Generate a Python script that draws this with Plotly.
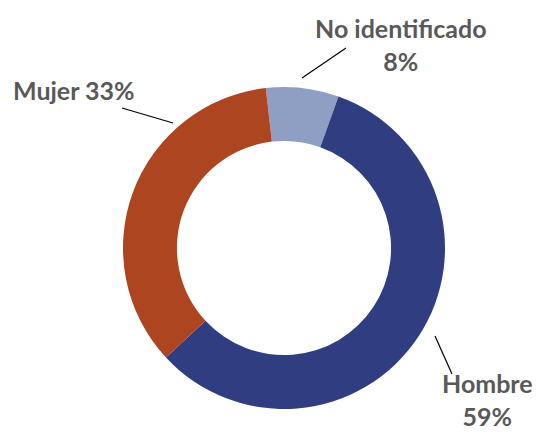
import plotly.graph_objects as go

categories = ["No identificado", "Hombre", "Mujer"]
# slice shares as drawn in the reference ring
values = [7.3, 57.6, 35.1]
# percentages as printed in the reference labels
pct_labels = ["8%", "59%", "33%"]
colors = ["#8F9FC3", "#303E81", "#AD4520"]
label_breaks = ["<br>", "<br>", " "]
label_texts = [c + b + p for c, b, p in zip(categories, label_breaks, pct_labels)]

W, H = 539, 433
cx, cy, r = 284, 248, 161

fig = go.Figure(go.Pie(
    labels=categories, values=values, sort=False, direction="clockwise",
    rotation=-6.5, hole=0.665, textinfo="none", hoverinfo="label",
    marker=dict(colors=colors, line=dict(width=0)),
    domain=dict(x=[(cx - r) / W, (cx + r) / W], y=[1 - (cy + r) / H, 1 - (cy - r) / H]),
    showlegend=False,
))

# label placement (pixels) and leader lines (pixels)
label_pos = [(401, 44), (487, 399), (74, 90)]
leaders = [((302, 78), (346, 48)), ((435, 336), (452, 374)), ((122, 108), (173, 123))]

annotations = []
shapes = []
for txt, (x, y), ((x0, y0), (x1, y1)) in zip(label_texts, label_pos, leaders):
    annotations.append(dict(
        text="<b>" + txt + "</b>", x=x / W, y=1 - y / H, xref="paper", yref="paper",
        xanchor="center", yanchor="middle", showarrow=False, align="center",
        font=dict(family="Lato", size=25, color="#595959"),
    ))
    shapes.append(dict(type="line", xref="paper", yref="paper",
                       x0=x0 / W, y0=1 - y0 / H, x1=x1 / W, y1=1 - y1 / H,
                       line=dict(color="#000000", width=1.2)))

fig.update_layout(
    width=W, height=H, margin=dict(l=0, r=0, t=0, b=0),
    paper_bgcolor="white", plot_bgcolor="white",
    annotations=annotations, shapes=shapes,
)

fig.write_html("out.html", config={"displayModeBar": False},
               post_script="document.body.style.margin='0';document.body.style.overflow='hidden';")
